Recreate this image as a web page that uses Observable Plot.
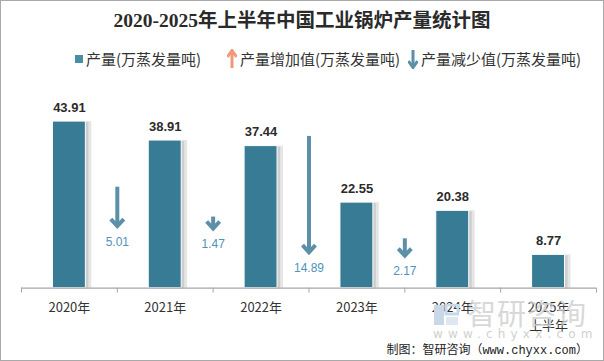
<!DOCTYPE html>
<html><head><meta charset="utf-8">
<script src="https://cdn.jsdelivr.net/npm/d3@7"></script>
<script src="https://cdn.jsdelivr.net/npm/@observablehq/plot@0.6"></script>
<style>
body{margin:0;background:#fff;}
#wrap{position:relative;width:602px;height:359px;border:1px solid #a9a9a9;overflow:hidden;background:#fff;font-family:"Noto Sans CJK SC",sans-serif;color:#333;}
#title{position:absolute;left:0;width:602px;top:7px;text-align:center;font-family:"Liberation Serif","Noto Sans CJK SC",serif;font-weight:bold;font-size:19.5px;line-height:26px;color:#2a2a2a;}
.leg{position:absolute;top:48px;font-size:15px;line-height:20px;color:#333;white-space:nowrap;display:flex;align-items:center;}
.leg svg{margin-right:3px;}
#chart{position:absolute;left:-1px;top:79px;}
#wm{position:absolute;left:466px;top:296px;font-size:29px;line-height:30px;color:#cfcfcf;opacity:0.8;letter-spacing:1px;}
#wm2{position:absolute;left:432px;top:326px;font-size:12px;line-height:14px;color:#d0d0d0;letter-spacing:5.2px;font-family:"DejaVu Sans",sans-serif;}
#logo{position:absolute;left:432px;top:303px;width:26px;height:22px;}
#caption{position:absolute;right:15px;top:341px;font-size:12px;line-height:18px;color:#222;font-family:"Liberation Mono","Noto Sans CJK SC",monospace;white-space:nowrap;}
</style></head><body>
<div id="wrap">
  <div id="title">2020-2025年上半年中国工业锅炉产量统计图</div>
  <div class="leg" style="left:74px"><svg width="8" height="8"><rect width="8" height="8" fill="#4a8ea6"/></svg><span>产量(万蒸发量吨)</span></div>
  <div class="leg" style="left:226px"><svg width="10" height="20"><line x1="5" y1="19" x2="5" y2="3" stroke="#f0987a" stroke-width="3"/><path d="M0.5,8 L5,1.5 L9.5,8" fill="none" stroke="#f0987a" stroke-width="3"/></svg><span>产量增加值(万蒸发量吨)</span></div>
  <div class="leg" style="left:407px"><svg width="10" height="20"><line x1="5" y1="1" x2="5" y2="17" stroke="#5b90a8" stroke-width="3"/><path d="M0.5,12 L5,18.5 L9.5,12" fill="none" stroke="#5b90a8" stroke-width="3"/></svg><span>产量减少值(万蒸发量吨)</span></div>
  <div id="chart"></div>
  <svg id="logo" viewBox="0 0 26 22"><rect x="1" y="1" width="10" height="20" fill="#c8d8e6"/><rect x="13" y="1" width="12" height="9" fill="none" stroke="#c8d8e6" stroke-width="3"/><rect x="13" y="13" width="12" height="8" fill="#dfe8f0"/></svg>
  <div id="wm">智研咨询</div>
  <div id="wm2">www.chyxx.com</div>
  <div id="caption">制图：智研咨询（www.chyxx.com）</div>
</div>
<script>
// Data
const years = ["2020年", "2021年", "2022年", "2023年", "2024年", "2025年\n上半年"];
const output = [43.91, 38.91, 37.44, 22.55, 20.38, 8.77];          // 产量 (万蒸发量吨)
const decreaseYears = ["2021年", "2022年", "2023年", "2024年"];     // arrow sits before this year
const decreases = [5.01, 1.47, 14.89, 2.17];                        // 产量减少值

const bars = years.map((y, i) => ({year: y, value: output[i]}));
const arrows = decreaseYears.map((y, i) => {
  const next = output[years.indexOf(y)];
  const tip = next * 0.42;
  return {year: y, value: decreases[i], y1: tip + decreases[i] * 2.05, y2: tip};
});

// chevron arrow head, tip at the anchor point, pointing down
const chevron = {
  draw(ctx, size) {
    const w = 6.5, h = 7;
    ctx.moveTo(-w, -h);
    ctx.lineTo(0, 0);
    ctx.lineTo(w, -h);
  }
};

const W = 604, mL = 21, mR = 7;
const step = (W - mL - mR) / years.length;
const inset = (step - 33) / 2;

const chart = Plot.plot({
  width: W, height: 250,
  marginTop: 18, marginBottom: 42, marginLeft: mL, marginRight: mR,
  style: {fontFamily: "'Noto Sans CJK SC', sans-serif", background: "transparent", overflow: "visible"},
  x: {domain: years, padding: 0, axis: null, label: null},
  y: {domain: [0, 50], axis: null},
  marks: [
    // soft shadow to the right of each bar
    Plot.barY(bars, {x: "year", y: "value", fill: "#000", fillOpacity: 0.10, insetLeft: inset + 5, insetRight: inset - 6}),
    Plot.barY(bars, {x: "year", y: "value", fill: "#000", fillOpacity: 0.10, insetLeft: inset + 3, insetRight: inset - 3, dy: 1}),
    Plot.barY(bars, {x: "year", y: "value", fill: "#377b94", stroke: "#fff", strokeWidth: 1, insetLeft: inset, insetRight: inset}),
    Plot.text(bars, {x: "year", y: "value", text: d => d.value.toFixed(2), dy: -14, fontSize: 13, fontWeight: "bold", fill: "#2b2b2b", fontFamily: "'Liberation Sans', Arial, sans-serif"}),
    // decrease arrows between bars: shaft + chevron head
    Plot.ruleX(arrows, {x: "year", y1: "y1", y2: "y2", dx: -step / 2, stroke: "#5b90a8", strokeWidth: 4, insetBottom: 2}),
    Plot.dot(arrows, {x: "year", y: "y2", dx: -step / 2, symbol: chevron, r: 5, stroke: "#5b90a8", strokeWidth: 4, fill: "none", strokeLinejoin: "miter", strokeLinecap: "butt"}),
    Plot.text(arrows, {x: "year", y: "y2", text: d => d.value.toFixed(2), dx: -step / 2, dy: 16, fontSize: 12, fill: "#4f92ba", fontFamily: "'Liberation Sans', Arial, sans-serif"}),
    // axis line and boundary ticks
    Plot.ruleY([0], {stroke: "#a6a6a6", strokeWidth: 1.2}),
    Plot.axisX(years, {tickSize: 5, tickFormat: () => "", stroke: "#a6a6a6", dx: -step / 2, label: null}),
    Plot.axisX([years[years.length - 1]], {tickSize: 5, tickFormat: () => "", stroke: "#a6a6a6", dx: step / 2, label: null}),
    Plot.axisX(years, {tickSize: 0, tickPadding: 11, fontSize: 13, fill: "#333", lineHeight: 1.4, label: null})
  ]
});
document.getElementById("chart").appendChild(chart);
</script>
</body></html>
